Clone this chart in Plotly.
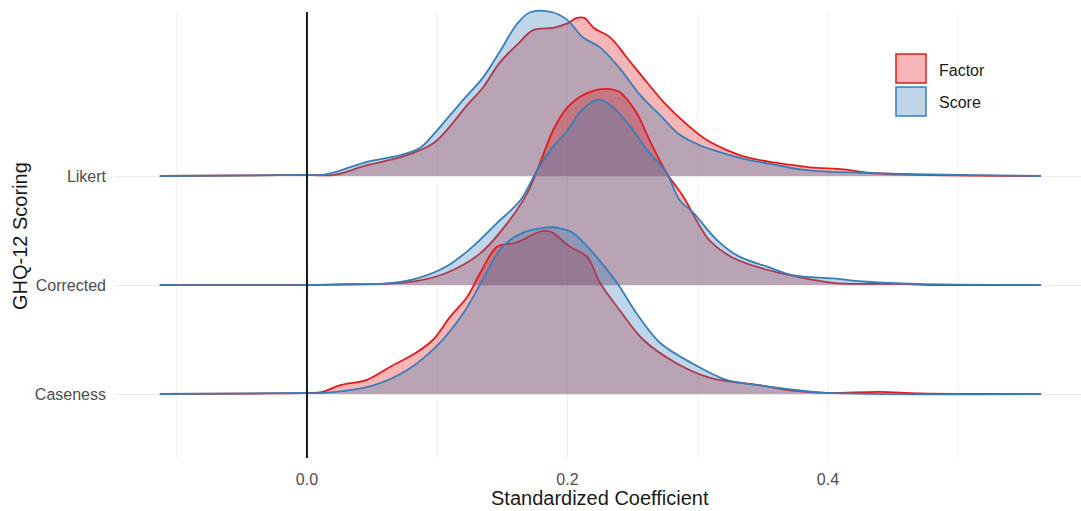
import plotly.graph_objects as go

# ---------------- data ----------------
rows = ["Caseness", "Corrected", "Likert"]
row_pos = [1, 2, 3]
groups = ["Factor", "Score"]

likert_factor_x = [-0.113, 0.0, 0.021, 0.046, 0.071, 0.097, 0.123, 0.135, 0.148, 0.161, 0.174, 0.189, 0.200, 0.207,
                   0.213, 0.220, 0.233, 0.246, 0.261, 0.276, 0.292, 0.307, 0.322, 0.338, 0.361, 0.386, 0.412, 0.430,
                   0.471, 0.5635]
likert_factor_h = [0, 0.01, 0.01, 0.10, 0.17, 0.30, 0.65, 0.81, 1.04, 1.20, 1.34, 1.36, 1.40, 1.45,
                   1.45, 1.36, 1.27, 1.08, 0.86, 0.65, 0.47, 0.33, 0.24, 0.17, 0.12, 0.08, 0.06, 0.03,
                   0.01, 0]

likert_score_x = [-0.113, 0.0, 0.012, 0.020, 0.046, 0.071, 0.087, 0.097, 0.110, 0.123, 0.135, 0.148, 0.161, 0.171,
                  0.189, 0.200, 0.212, 0.225, 0.240, 0.256, 0.271, 0.286, 0.302, 0.317, 0.338, 0.361, 0.379, 0.399,
                  0.425, 0.455, 0.501, 0.5635]
likert_score_h = [0, 0.01, 0.01, 0.03, 0.13, 0.19, 0.26, 0.38, 0.56, 0.74, 0.90, 1.14, 1.39, 1.50,
                  1.50, 1.43, 1.27, 1.18, 0.99, 0.74, 0.56, 0.38, 0.28, 0.22, 0.15, 0.10, 0.06, 0.04,
                  0.03, 0.02, 0.01, 0]

corrected_factor_x = [-0.113, 0.0, 0.056, 0.081, 0.107, 0.133, 0.154, 0.169, 0.179, 0.189, 0.200, 0.215, 0.230,
                      0.240, 0.253, 0.263, 0.276, 0.289, 0.302, 0.309, 0.327, 0.353, 0.379, 0.404, 0.430, 0.455,
                      0.481, 0.5635]
corrected_factor_h = [0, 0, 0.01, 0.03, 0.11, 0.29, 0.57, 0.84, 1.12, 1.42, 1.63, 1.76, 1.80,
                      1.77, 1.58, 1.33, 1.03, 0.81, 0.53, 0.41, 0.25, 0.14, 0.07, 0.02, 0.01, 0.01,
                      0, 0]

corrected_score_x = [-0.113, 0.0, 0.033, 0.056, 0.081, 0.107, 0.127, 0.146, 0.164, 0.177, 0.187, 0.200, 0.210,
                     0.223, 0.233, 0.246, 0.261, 0.276, 0.286, 0.296, 0.315, 0.332, 0.353, 0.373, 0.404, 0.430,
                     0.468, 0.5635]
corrected_score_h = [0, 0, 0.01, 0.01, 0.05, 0.17, 0.35, 0.57, 0.78, 1.06, 1.24, 1.42, 1.59,
                     1.70, 1.65, 1.49, 1.24, 1.03, 0.78, 0.67, 0.41, 0.26, 0.17, 0.09, 0.06, 0.03,
                     0.01, 0]

caseness_factor_x = [-0.113, -0.028, 0.0, 0.012, 0.025, 0.046, 0.064, 0.084, 0.097, 0.110, 0.123, 0.133, 0.146,
                     0.161, 0.179, 0.187, 0.202, 0.215, 0.225, 0.240, 0.258, 0.284, 0.309, 0.348, 0.373, 0.399,
                     0.440, 0.471, 0.5635]
caseness_factor_h = [0, 0.005, 0.01, 0.02, 0.08, 0.13, 0.25, 0.38, 0.50, 0.71, 0.89, 1.11, 1.35,
                     1.39, 1.49, 1.49, 1.35, 1.26, 1.02, 0.77, 0.50, 0.28, 0.15, 0.08, 0.03, 0.01,
                     0.02, 0.005, 0]

caseness_score_x = [-0.113, 0.0, 0.012, 0.051, 0.077, 0.102, 0.120, 0.135, 0.150, 0.166, 0.189, 0.194, 0.204,
                    0.220, 0.238, 0.253, 0.271, 0.296, 0.322, 0.348, 0.373, 0.399, 0.5635]
caseness_score_h = [0, 0.01, 0.01, 0.08, 0.22, 0.47, 0.74, 1.05, 1.35, 1.48, 1.53, 1.52, 1.48,
                    1.29, 1.02, 0.74, 0.47, 0.28, 0.13, 0.08, 0.04, 0.01, 0]

x_ticks = [0.0, 0.2, 0.4]
x_ticklabels = ["0.0", "0.2", "0.4"]
x_minor = [-0.1, 0.1, 0.3, 0.5]

# ---------------- style ----------------
FONT = "Liberation Sans, Arial, sans-serif"
line_col = {"Factor": "#E41A1C", "Score": "#377EB8"}
fill_col = {"Factor": "rgba(228,26,28,0.32)", "Score": "rgba(55,126,184,0.32)"}

curves = {
    ("Likert", "Factor"): (likert_factor_x, likert_factor_h),
    ("Likert", "Score"): (likert_score_x, likert_score_h),
    ("Corrected", "Factor"): (corrected_factor_x, corrected_factor_h),
    ("Corrected", "Score"): (corrected_score_x, corrected_score_h),
    ("Caseness", "Factor"): (caseness_factor_x, caseness_factor_h),
    ("Caseness", "Score"): (caseness_score_x, caseness_score_h),
}
base_of = dict(zip(rows, row_pos))

fig = go.Figure()
for r in ["Likert", "Corrected", "Caseness"]:
    for g in groups:
        xs, hs = curves[(r, g)]
        b = base_of[r]
        fig.add_trace(go.Scatter(
            x=xs, y=[b + h for h in hs], mode="lines", fill="toself",
            fillcolor=fill_col[g],
            line=dict(color=line_col[g], width=1.8, shape="spline", smoothing=1.0),
            name=g, showlegend=False, hoverinfo="skip"))

W, H = 1081, 511
L, R, T, B = 115, 0, 8, 53
pw, ph = W - L - R, H - T - B


def px(xp):
    return (xp - L) / pw


def py(yp):
    return (H - B - yp) / ph


shapes = [dict(type="line", xref="x", yref="paper", x0=0, x1=0, y0=0, y1=py(12),
               line=dict(color="#1A1A1A", width=2), layer="above")]
annotations = []
legend_items = [("Factor", 54, 83, 70), ("Score", 87, 116, 102)]
for g, y0p, y1p, ytp in legend_items:
    shapes.append(dict(type="rect", xref="paper", yref="paper",
                       x0=px(896), x1=px(926), y0=py(y1p), y1=py(y0p),
                       fillcolor=fill_col[g], line=dict(color=line_col[g], width=1.5), layer="above"))
    annotations.append(dict(xref="paper", yref="paper", x=px(937), y=py(ytp), text=g, showarrow=False,
                            xanchor="left", yanchor="middle", font=dict(family=FONT, size=16, color="#1A1A1A")))

annotations.append(dict(xref="paper", yref="paper", x=px(600), y=py(498), text="Standardized Coefficient",
                        showarrow=False, xanchor="center", yanchor="middle",
                        font=dict(family=FONT, size=20, color="#1A1A1A")))
annotations.append(dict(xref="paper", yref="paper", x=px(20), y=py(236), text="GHQ-12 Scoring",
                        showarrow=False, xanchor="center", yanchor="middle", textangle=-90,
                        font=dict(family=FONT, size=20, color="#1A1A1A")))

# y range: baseline spacing 109 px, Caseness baseline at 394 px
y_lo = 1 - (H - B - 394) / 109
y_hi = 3 + (176 - T) / 109

fig.update_layout(
    width=W, height=H, margin=dict(l=L, r=R, t=T, b=B),
    paper_bgcolor="white", plot_bgcolor="white",
    font=dict(family=FONT),
    shapes=shapes, annotations=annotations,
    xaxis=dict(range=[-0.1474, 0.5943], tickvals=x_ticks, ticktext=x_ticklabels,
               showgrid=False, zeroline=False, showline=False,
               ticks="", ticklabelstandoff=10,
               tickfont=dict(family=FONT, size=16, color="#4D4D4D")),
    yaxis=dict(range=[y_lo, y_hi], tickvals=row_pos, ticktext=rows,
               showgrid=True, gridcolor="#EBEBEB", gridwidth=1, zeroline=False, showline=False,
               ticks="", ticklabelstandoff=8,
               tickfont=dict(family=FONT, size=16, color="#4D4D4D")),
)

# vertical grid lines drawn as shapes so they stop at the panel top used by the reference
for v, c in [(xv, "#EBEBEB") for xv in x_ticks] + [(xv, "#F2F2F2") for xv in x_minor]:
    fig.add_shape(type="line", xref="x", yref="paper", x0=v, x1=v, y0=0, y1=py(12),
                  line=dict(color=c, width=1), layer="below")

fig.write_html("out.html")
